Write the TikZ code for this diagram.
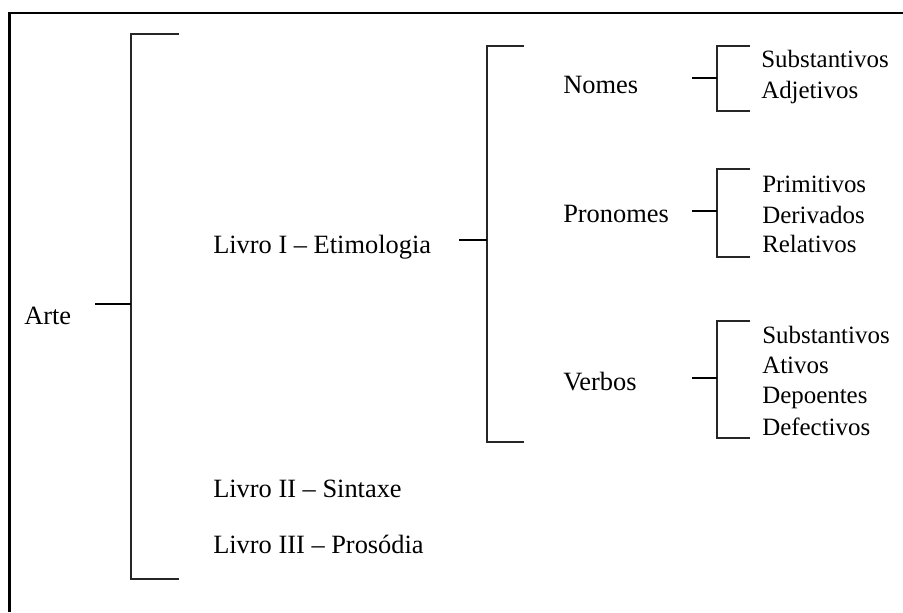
\documentclass[tikz,border=0pt]{standalone}
\usepackage{fontspec}
\setmainfont{Liberation Serif}
\begin{document}
\begin{tikzpicture}[x=0.75pt,y=-0.75pt,
  lbl/.style={anchor=base west,inner sep=0pt,font=\fontsize{19.8}{23}\selectfont},
  leaf/.style={lbl,font=\fontsize{18.7}{22}\selectfont},
  brace/.style={line width=0.8pt,draw=black!85},
  stem/.style={line width=1.5pt},
  frame/.style={line width=2pt}]
\useasboundingbox (0,0) rectangle (903,612);

% open frame: left and top rules
\draw[frame] (9.3,612) -- (9.3,13) -- (903,13);

% labels
\node[lbl] (arte)   at (24,324)  {Arte};
\node[lbl] (l1)     at (213,253) {Livro I – Etimologia};
\node[lbl] (l2)     at (213,497) {Livro II – Sintaxe};
\node[lbl] (l3)     at (213,553) {Livro III – Prosódia};
\node[lbl] (nomes)  at (563,93)  {Nomes};
\node[lbl] (pron)   at (563,222) {Pronomes};
\node[lbl] (verbos) at (563,390) {Verbos};
\node[leaf] (n1) at (761,67)  {Substantivos};
\node[leaf] (n2) at (761,98)  {Adjetivos};
\node[leaf] (p1) at (762,192) {Primitivos};
\node[leaf] (p2) at (762,223) {Derivados};
\node[leaf] (p3) at (762,252) {Relativos};
\node[leaf] (v1) at (762,343) {Substantivos};
\node[leaf] (v2) at (762,373) {Ativos};
\node[leaf] (v3) at (762,403) {Depoentes};
\node[leaf] (v4) at (762,435) {Defectivos};

% bracket corners and stem ends
\coordinate (mT) at (131,34);   \coordinate (mB) at (131,579);
\coordinate (mS) at (95,304);   \coordinate (mJ) at (131,304);
\coordinate (eT) at (487,46);   \coordinate (eB) at (487,442);
\coordinate (eS) at (459,240);  \coordinate (eJ) at (487,240);
\coordinate (nT) at (717,46);   \coordinate (nB) at (717,111);
\coordinate (nS) at (692,78);   \coordinate (nJ) at (717,78);
\coordinate (pT) at (717,169);  \coordinate (pB) at (717,257);
\coordinate (pS) at (692,211);  \coordinate (pJ) at (717,211);
\coordinate (vT) at (717,321);  \coordinate (vB) at (717,438);
\coordinate (vS) at (692,378);  \coordinate (vJ) at (717,378);

% brackets
\draw[brace] ([xshift=36]mT) -- (mT) -- (mB) -- ([xshift=36]mB);
\draw[brace] ([xshift=28]eT) -- (eT) -- (eB) -- ([xshift=28]eB);
\draw[brace] ([xshift=25]nT) -- (nT) -- (nB) -- ([xshift=25]nB);
\draw[brace] ([xshift=25]pT) -- (pT) -- (pB) -- ([xshift=25]pB);
\draw[brace] ([xshift=25]vT) -- (vT) -- (vB) -- ([xshift=25]vB);

% stems joining each label to its bracket
\draw[stem] (mS) -- (mJ);
\draw[stem] (eS) -- (eJ);
\draw[stem] (nS) -- (nJ);
\draw[stem] (pS) -- (pJ);
\draw[stem] (vS) -- (vJ);
\end{tikzpicture}
\end{document}
